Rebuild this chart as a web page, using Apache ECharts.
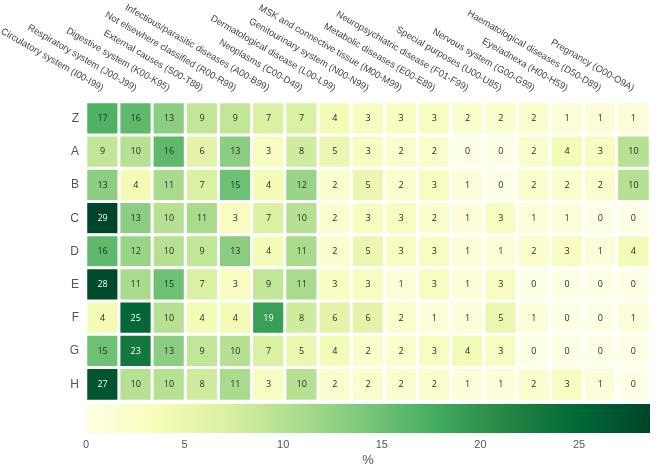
<!DOCTYPE html>
<html>
<head>
<meta charset="utf-8">
<script src="https://cdn.jsdelivr.net/npm/echarts@6/dist/echarts.min.js"></script>
<style>html,body{margin:0;padding:0;background:#fff;}#c{width:666px;height:473px;}</style>
</head>
<body>
<div id="c"></div>
<script>
const categories = [
  'Circulatory system (I00-I99)',
  'Respiratory system (J00-J99)',
  'Digestive system (K00-K95)',
  'External causes (S00-T88)',
  'Not elsewhere classified (R00-R99)',
  'Infectious/parasitic diseases (A00-B99)',
  'Neoplasms (C00-D49)',
  'Dermatological disease (L00-L99)',
  'Genitourinary system (N00-N99)',
  'MSK and connective tissue (M00-M99)',
  'Metabolic diseases (E00-E89)',
  'Neuropsychiatric disease (F01-F99)',
  'Special purposes (U00-U85)',
  'Nervous system (G00-G99)',
  'Eye/adnexa (H00-H59)',
  'Haematological diseases (D50-D89)',
  'Pregnancy (O00-O9A)'
];
const groups = ['Z', 'A', 'B', 'C', 'D', 'E', 'F', 'G', 'H'];
const rowZ = [17, 16, 13, 9, 9, 7, 7, 4, 3, 3, 3, 2, 2, 2, 1, 1, 1];
const rowA = [9, 10, 16, 6, 13, 3, 8, 5, 3, 2, 2, 0, 0, 2, 4, 3, 10];
const rowB = [13, 4, 11, 7, 15, 4, 12, 2, 5, 2, 3, 1, 0, 2, 2, 2, 10];
const rowC = [29, 13, 10, 11, 3, 7, 10, 2, 3, 3, 2, 1, 3, 1, 1, 0, 0];
const rowD = [16, 12, 10, 9, 13, 4, 11, 2, 5, 3, 3, 1, 1, 2, 3, 1, 4];
const rowE = [28, 11, 15, 7, 3, 9, 11, 3, 3, 1, 3, 1, 3, 0, 0, 0, 0];
const rowF = [4, 25, 10, 4, 4, 19, 8, 6, 6, 2, 1, 1, 5, 1, 0, 0, 1];
const rowG = [15, 23, 13, 9, 10, 7, 5, 4, 2, 2, 3, 4, 3, 0, 0, 0, 0];
const rowH = [27, 10, 10, 8, 11, 3, 10, 2, 2, 2, 2, 1, 1, 2, 3, 1, 0];
const colorbarRange = [0, 28.6];
const colorbarTicks = [0, 5, 10, 15, 20, 25];

const rows = [rowZ, rowA, rowB, rowC, rowD, rowE, rowF, rowG, rowH];
const palette = ['#ffffe5', '#f7fcb9', '#d9f0a3', '#addd8e', '#78c679', '#41ab5d', '#238443', '#006837', '#004529'];

const data = [];
rows.forEach((r, ri) => r.forEach((v, ci) => {
  data.push({ value: [ci, ri, v], label: { color: v >= 19 ? '#ffffff' : '#2a2a2a' } });
}));

const chart = echarts.init(document.getElementById('c'));
chart.setOption({
  animation: false,
  backgroundColor: '#ffffff',
  grid: [
    { left: 86, right: 16, top: 102, bottom: 72, outerBoundsMode: 'none', containLabel: false },
    { left: 86, right: 16, top: 404, height: 29, outerBoundsMode: 'none', containLabel: false }
  ],
  xAxis: [
    {
      type: 'category', data: categories, position: 'top', gridIndex: 0,
      axisLine: { show: false }, axisTick: { show: false }, splitLine: { show: false },
      axisLabel: { rotate: 30, interval: 0, margin: 13, color: '#444', fontSize: 9.5, fontFamily: 'Liberation Sans' }
    },
    {
      type: 'value', gridIndex: 1, min: colorbarRange[0], max: colorbarRange[1], interval: 5,
      axisLine: { show: false }, axisTick: { show: false }, splitLine: { show: false },
      axisLabel: { margin: 6, color: '#555', fontSize: 11, fontFamily: 'Liberation Sans',
        formatter: v => colorbarTicks.indexOf(v) >= 0 ? String(v) : '' },
      name: '%', nameLocation: 'middle', nameGap: 21,
      nameTextStyle: { color: '#555', fontSize: 13, fontFamily: 'Liberation Sans' }
    }
  ],
  yAxis: [
    {
      type: 'category', data: groups, inverse: true, gridIndex: 0,
      axisLine: { show: false }, axisTick: { show: false }, splitLine: { show: false },
      axisLabel: { margin: 7, color: '#555', fontSize: 12, fontFamily: 'Liberation Sans' }
    },
    {
      type: 'category', data: ['%'], gridIndex: 1, show: false
    }
  ],
  visualMap: {
    show: false, type: 'continuous', min: colorbarRange[0], max: colorbarRange[1],
    seriesIndex: 0, dimension: 2, inRange: { color: palette }
  },
  series: [
    {
      type: 'heatmap', xAxisIndex: 0, yAxisIndex: 0, data: data,
      itemStyle: { borderColor: '#ffffff', borderWidth: 3 },
      label: { show: true, fontSize: 9, fontFamily: 'Open Sans', formatter: p => p.value[2] },
      emphasis: { disabled: true }
    },
    {
      type: 'bar', xAxisIndex: 1, yAxisIndex: 1, barWidth: '100%',
      data: [colorbarRange[1]],
      itemStyle: {
        color: new echarts.graphic.LinearGradient(0, 0, 1, 0,
          palette.map((c, i) => ({ offset: i / (palette.length - 1), color: c })))
      },
      silent: true
    }
  ]
});
</script>
</body>
</html>
